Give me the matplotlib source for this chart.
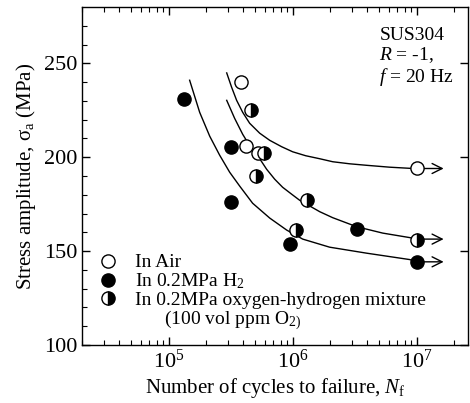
import matplotlib
matplotlib.use("Agg")
import matplotlib.pyplot as plt
from matplotlib.lines import Line2D

plt.rcParams['font.family'] = ['Liberation Serif', 'DejaVu Serif']
plt.rcParams['mathtext.fontset'] = 'custom'
plt.rcParams['mathtext.rm'] = 'Liberation Serif'
plt.rcParams['mathtext.it'] = 'Liberation Serif:italic'
plt.rcParams['mathtext.bf'] = 'Liberation Serif:bold'

# Data points
air_n = [3.86e5, 4.2e5, 5.3e5, 1.0e7]
air_s = [240, 206, 202, 194]
h2_n = [1.33e5, 3.16e5, 3.16e5, 9.6e5, 3.3e6, 1.0e7]
h2_s = [231, 205.5, 176, 154, 162, 144]
mix_n = [4.64e5, 5.9e5, 5.1e5, 1.31e6, 1.07e6, 1.0e7]
mix_s = [225, 202, 190, 177, 161, 156]

# Fitted curves: log10(N) and stress
air_curve_logn = [5.468, 5.508, 5.548, 5.597, 5.653, 5.734, 5.815, 5.911, 6.000,
                  6.105, 6.218, 6.323, 6.460, 6.597, 6.782, 6.944, 7.0]
air_curve_s = [244.9, 237.2, 230.3, 223.9, 218.1, 212.8, 209.0, 205.6, 202.9,
               200.8, 199.2, 197.6, 196.5, 195.7, 194.7, 194.1, 194.0]
mix_curve_logn = [5.468, 5.532, 5.597, 5.661, 5.726, 5.790, 5.855, 5.919, 5.992,
                  6.056, 6.218, 6.323, 6.516, 6.726, 6.944, 7.0]
mix_curve_s = [230.3, 220.7, 212.2, 205.3, 200.0, 193.6, 188.3, 184.0, 180.3,
               177.1, 171.0, 167.8, 163.0, 159.6, 157.2, 156.4]
h2_curve_logn = [5.169, 5.250, 5.331, 5.411, 5.492, 5.573, 5.677, 5.815, 5.952,
                 6.081, 6.298, 6.597, 6.944, 7.0]
h2_curve_s = [241.0, 223.9, 211.2, 201.1, 192.0, 184.6, 175.5, 167.6, 161.2,
              156.4, 152.1, 148.9, 145.5, 144.3]

arrow_start = 1.0e7
arrow_end = 1.65e7
arrow_levels = [194.0, 156.4, 144.3]

fig = plt.figure(figsize=(4.70, 4.03), dpi=100)
ax = fig.add_axes([0.1745, 0.1439, 0.8215, 0.8387])

for lx, s in [(air_curve_logn, air_curve_s), (mix_curve_logn, mix_curve_s), (h2_curve_logn, h2_curve_s)]:
    ax.plot([10 ** v for v in lx], s, color='black', lw=1.0, zorder=2,
            solid_joinstyle='round')

for y in arrow_levels:
    ax.annotate('', xy=(arrow_end, y), xytext=(arrow_start, y),
                arrowprops=dict(arrowstyle='->', color='black', lw=1.0,
                                mutation_scale=18, shrinkA=0, shrinkB=0), zorder=2)

ms = 9.5
ax.plot(air_n, air_s, 'o', ms=ms, mfc='white', mec='black', mew=1.0, ls='none', zorder=3)
ax.plot(h2_n, h2_s, 'o', ms=ms, mfc='black', mec='black', mew=1.0, ls='none', zorder=3)
ax.plot(mix_n, mix_s, 'o', ms=ms, mfc='black', mfcalt='white', fillstyle='right',
        mec='black', mew=1.0, ls='none', zorder=3)

ax.set_xscale('log')
ax.set_xlim(2e4, 2.6e7)
ax.set_ylim(100, 280)
ax.set_yticks([100, 150, 200, 250])
ax.set_yticks(range(110, 280, 10), minor=True)

ax.tick_params(which='both', direction='in', top=True, right=True, labelsize=16)
ax.tick_params(which='major', length=6, width=1.0)
ax.tick_params(which='minor', length=3.5, width=0.8)
ax.tick_params(axis='y', which='minor', right=False)
for sp in ax.spines.values():
    sp.set_linewidth(1.0)

ax.set_xlabel('Number of cycles to failure, $N_\\mathrm{f}$', fontsize=15, labelpad=2)
ax.set_ylabel('Stress amplitude, $\\mathrm{\\sigma}_\\mathrm{a}$ (MPa)', fontsize=15, labelpad=4)

ax.text(0.77, 0.94, 'SUS304\n$R$ = -1,\n$f$ = 20 Hz', transform=ax.transAxes,
        fontsize=14, va='top', ha='left', linespacing=1.05)

handles = [
    Line2D([], [], marker='o', ls='none', ms=ms, mfc='white', mec='black'),
    Line2D([], [], marker='o', ls='none', ms=ms, mfc='black', mec='black'),
    Line2D([], [], marker='o', ls='none', ms=ms, mfc='black', mfcalt='white', fillstyle='right', mec='black'),
    Line2D([], [], ls='none'),
]
labels = ['In Air', 'In 0.2MPa H$_2$', 'In 0.2MPa oxygen-hydrogen mixture',
          '      (100 vol ppm O$_{2)}$']
ax.legend(handles, labels, loc='lower left', bbox_to_anchor=(0.022, 0.015), frameon=False,
          fontsize=14, handlelength=1.0, handletextpad=0.9, labelspacing=0.0,
          borderaxespad=0.2, borderpad=0.2)

fig.savefig('out.png', dpi=100)
